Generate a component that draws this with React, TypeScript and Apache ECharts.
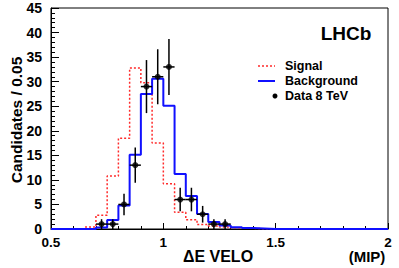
import React, { useEffect, useRef } from "react";
import * as echarts from "echarts";

// Histogram bins: lower edges (width 0.05), upper end of last bin
const binLowEdges = [
  0.5, 0.55, 0.6, 0.65, 0.7, 0.75, 0.8, 0.85, 0.9, 0.95,
  1.0, 1.05, 1.1, 1.15, 1.2, 1.25, 1.3, 1.35, 1.4, 1.45,
  1.5, 1.55, 1.6, 1.65, 1.7, 1.75, 1.8, 1.85, 1.9, 1.95,
];
const binUpperEnd = 2.0;
const binHalfWidth = 0.025;

const signalCounts = [
  0, 0, 0, 0.4, 2.8, 10.8, 18.5, 32.8, 29.8, 17.5,
  9.2, 3.4, 1.9, 0.9, 0.6, 0.4, 0.25, 0.15, 0.05, 0,
  0, 0, 0, 0, 0, 0, 0, 0, 0, 0,
];
const backgroundCounts = [
  0, 0, 0, 0, 0.3, 1.85, 4.8, 15.1, 27.5, 30.6,
  25.1, 11.2, 6.7, 3.05, 1.4, 0.7, 0.35, 0.2, 0.1, 0,
  0, 0, 0, 0, 0, 0, 0, 0, 0, 0,
];

const dataCenters = [0.725, 0.775, 0.825, 0.875, 0.925, 0.975, 1.025, 1.075, 1.125, 1.175, 1.225, 1.275];
const dataCounts = [1, 1, 5, 13, 29, 31, 33, 6, 6, 3, 1, 1];
const dataErrors = [1, 1, 2.2, 3.6, 5.4, 5.6, 5.7, 2.4, 2.4, 1.7, 1, 1];

const legendLabels = ["Signal", "Background", "Data 8 TeV"];
const FONT = "'Liberation Sans', Arial, Helvetica, sans-serif";

function histPoints(counts: number[]) {
  const pts: number[][] = binLowEdges.map((e, i) => [e, counts[i]]);
  pts.push([binUpperEnd, counts[counts.length - 1]]);
  return pts;
}

export default function App() {
  const ref = useRef<HTMLDivElement>(null);
  useEffect(() => {
    document.body.style.margin = "0";
    if (!ref.current) return;
    const chart = echarts.init(ref.current, null, { renderer: "svg" });
    const option: any = {
      animation: false,
      backgroundColor: "#ffffff",
      grid: {
        left: 51,
        top: 8,
        width: 337,
        height: 221,
        show: true,
        borderColor: "#000",
        borderWidth: 1,
        backgroundColor: "transparent",
      },
      xAxis: {
        type: "value",
        min: 0.5,
        max: 2,
        interval: 0.5,
        axisLine: { show: true, lineStyle: { color: "#000", width: 1 } },
        axisTick: { show: true, inside: true, length: 6, lineStyle: { color: "#000" } },
        minorTick: { show: true, splitNumber: 5, length: 3, lineStyle: { color: "#000" } },
        splitLine: { show: false },
        axisLabel: {
          color: "#000",
          fontSize: 13.5,
          fontWeight: "bold",
          fontFamily: FONT,
          margin: 6,
          formatter: (v: number) => String(v),
        },
      },
      yAxis: {
        type: "value",
        min: 0,
        max: 45,
        interval: 5,
        axisLine: { show: true, lineStyle: { color: "#000", width: 1 } },
        axisTick: { show: true, inside: true, length: 8, lineStyle: { color: "#000" } },
        minorTick: { show: true, splitNumber: 5, length: 4, lineStyle: { color: "#000" } },
        splitLine: { show: false },
        axisLabel: {
          color: "#000",
          fontSize: 14,
          fontWeight: "bold",
          fontFamily: FONT,
          margin: 9,
        },
      },
      series: [
        {
          name: legendLabels[0],
          type: "line",
          step: "end",
          symbol: "none",
          data: histPoints(signalCounts),
          lineStyle: { color: "#ff2a2a", width: 1.5, type: [2, 2] },
          z: 2,
        },
        {
          name: legendLabels[1],
          type: "line",
          step: "end",
          symbol: "none",
          data: histPoints(backgroundCounts),
          lineStyle: { color: "#1010ff", width: 2 },
          z: 3,
        },
        {
          name: "errors",
          type: "custom",
          data: dataCenters.map((x, i) => [x, dataCounts[i], dataErrors[i]]),
          renderItem: (params: any, api: any) => {
            const x = api.value(0);
            const y = api.value(1);
            const e = api.value(2);
            const top = api.coord([x, y + e]);
            const bot = api.coord([x, Math.max(0, y - e)]);
            const left = api.coord([x - binHalfWidth, y]);
            const right = api.coord([x + binHalfWidth, y]);
            const st = { stroke: "#000", lineWidth: 1.5 };
            return {
              type: "group",
              children: [
                { type: "line", shape: { x1: top[0], y1: top[1], x2: bot[0], y2: bot[1] }, style: st },
                { type: "line", shape: { x1: left[0], y1: left[1], x2: right[0], y2: right[1] }, style: st },
              ],
            };
          },
          z: 4,
        },
        {
          name: legendLabels[2],
          type: "scatter",
          data: dataCenters.map((x, i) => [x, dataCounts[i]]),
          symbol: "circle",
          symbolSize: 6,
          itemStyle: { color: "#000" },
          z: 5,
        },
      ],
      graphic: [
        {
          type: "text",
          x: 346,
          y: 33,
          style: { text: "LHCb", fill: "#000", fontSize: 19, fontWeight: "bold", fontFamily: FONT, align: "center", verticalAlign: "middle" },
        },
        { type: "line", shape: { x1: 258, y1: 66, x2: 275, y2: 66 }, style: { stroke: "#ff2a2a", lineWidth: 1.5, lineDash: [2, 2] } },
        { type: "line", shape: { x1: 258, y1: 81, x2: 275, y2: 81 }, style: { stroke: "#1010ff", lineWidth: 2 } },
        { type: "circle", shape: { cx: 275, cy: 96, r: 2.5 }, style: { fill: "#000" } },
        {
          type: "text",
          x: 285,
          y: 66,
          style: { text: legendLabels[0], fill: "#000", fontSize: 12.5, fontWeight: "bold", fontFamily: FONT, align: "left", verticalAlign: "middle" },
        },
        {
          type: "text",
          x: 285,
          y: 81,
          style: { text: legendLabels[1], fill: "#000", fontSize: 12.5, fontWeight: "bold", fontFamily: FONT, align: "left", verticalAlign: "middle" },
        },
        {
          type: "text",
          x: 285,
          y: 96,
          style: { text: legendLabels[2], fill: "#000", fontSize: 12.5, fontWeight: "bold", fontFamily: FONT, align: "left", verticalAlign: "middle" },
        },
        {
          type: "text",
          x: 218,
          y: 256,
          style: { text: "ΔE VELO", fill: "#000", fontSize: 16, fontWeight: "bold", fontFamily: FONT, align: "center", verticalAlign: "middle" },
        },
        {
          type: "text",
          x: 367,
          y: 256,
          style: { text: "(MIP)", fill: "#000", fontSize: 15, fontWeight: "bold", fontFamily: FONT, align: "center", verticalAlign: "middle" },
        },
        {
          type: "text",
          x: 16,
          y: 120,
          rotation: Math.PI / 2,
          style: { text: "Candidates / 0.05", fill: "#000", fontSize: 15.5, fontWeight: "bold", fontFamily: FONT, align: "center", verticalAlign: "middle" },
        },
      ],
    };
    chart.setOption(option);
    return () => chart.dispose();
  }, []);
  return <div ref={ref} style={{ width: 399, height: 268, position: "absolute", left: 0, top: 0 }} />;
}
